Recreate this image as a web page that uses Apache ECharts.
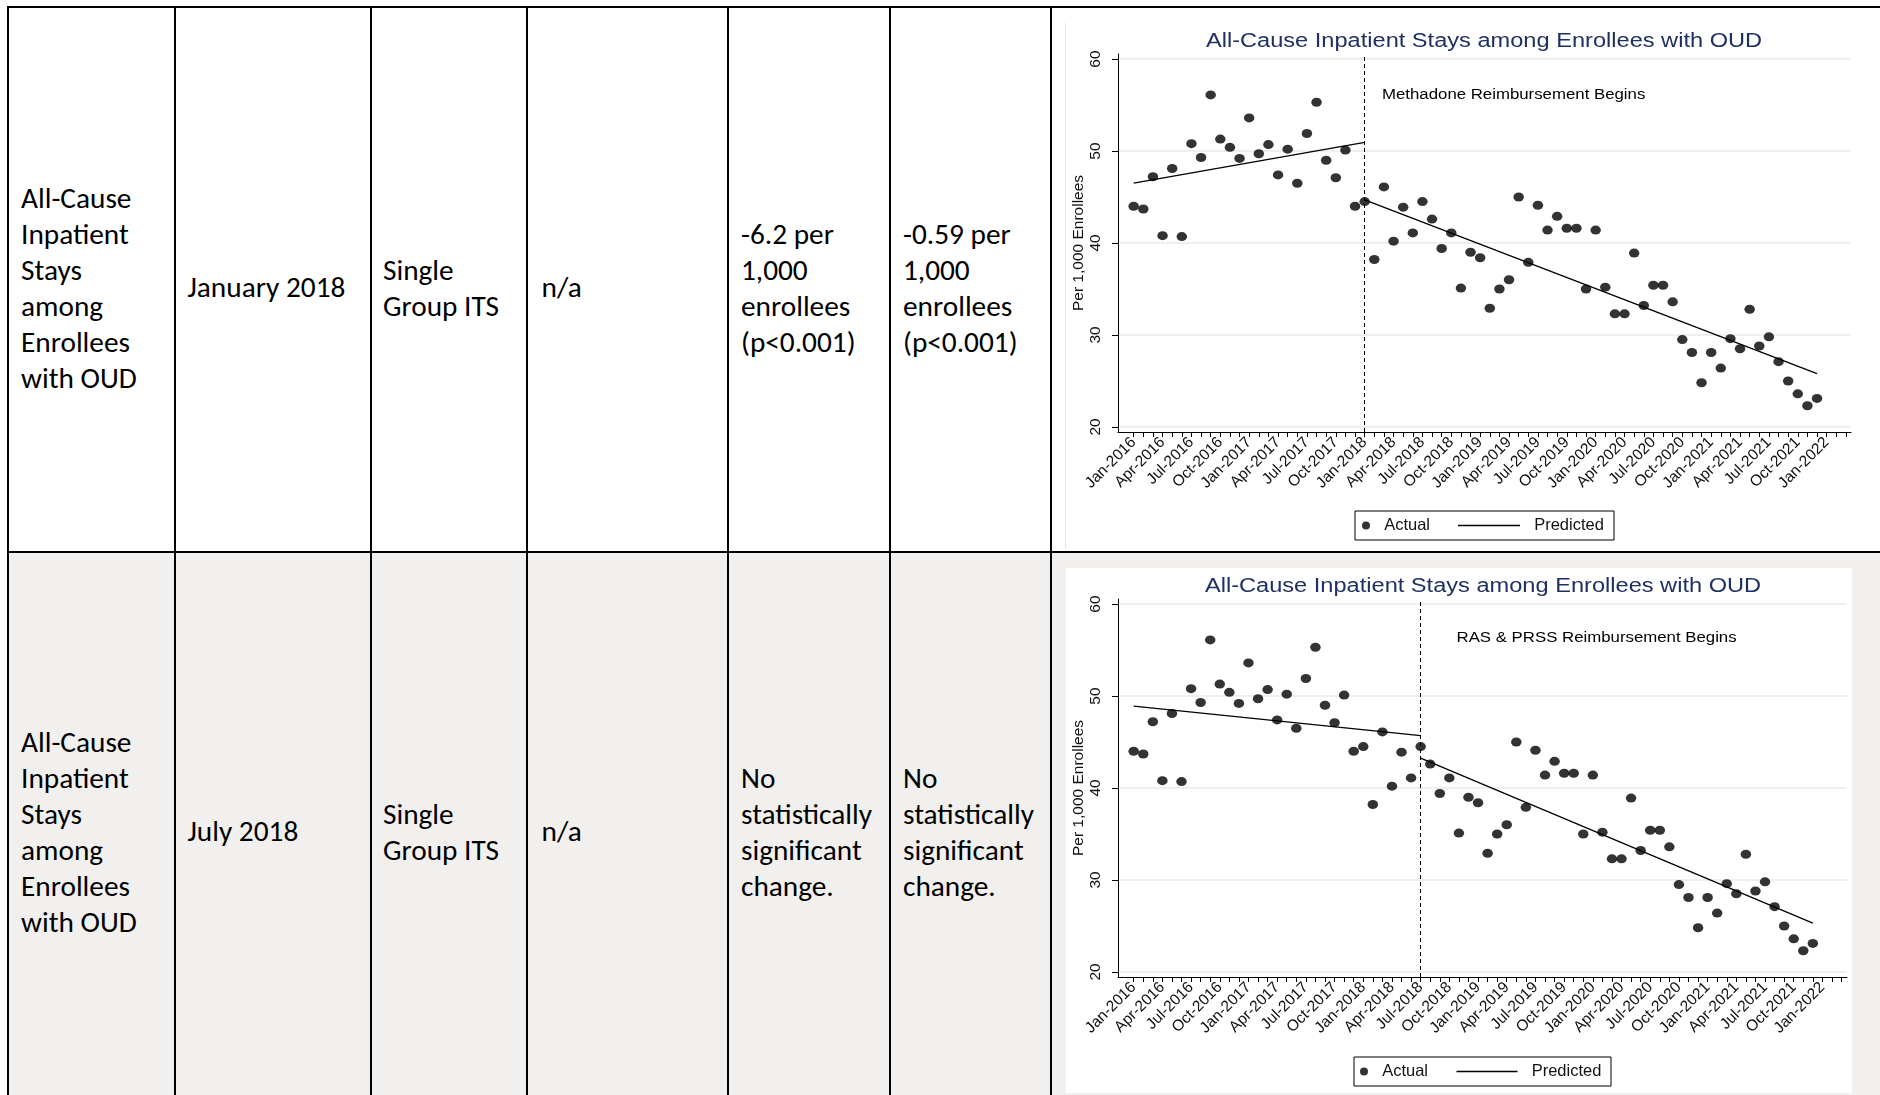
<!DOCTYPE html>
<html>
<head>
<meta charset="utf-8">
<script src="https://cdn.jsdelivr.net/npm/echarts@6/dist/echarts.min.js"></script>
<style>
html,body{margin:0;padding:0;background:#fff;}
#page{position:relative;width:1880px;height:1095px;overflow:hidden;background:#fff;}
.bg2{position:absolute;left:9px;top:553px;width:1871px;height:542px;background:#f1f0ee;}
.img1{position:absolute;left:1065px;top:23px;width:1px;height:525px;background:#e4e4e4;}
.img2{position:absolute;left:1066px;top:568px;width:786px;height:525px;background:#fff;}
.hl{position:absolute;height:2px;background:#000;}
.vl{position:absolute;width:2px;background:#000;}
.cell{position:absolute;font-family:Carlito,Calibri,Lato,sans-serif;font-size:29.3px;line-height:36px;color:#000;white-space:nowrap;}
#chart{position:absolute;left:0;top:0;width:1880px;height:1095px;}
</style>
</head>
<body>
<div id="page">
  <div class="bg2"></div>
  <div class="img1"></div>
  <div class="img2"></div>
  <div id="cells"></div>
  <div id="lines"></div>
  <div id="chart"></div>
</div>
<script>
// ---------------- data ----------------
const tickLabels = ['Jan-2016','Apr-2016','Jul-2016','Oct-2016','Jan-2017','Apr-2017','Jul-2017','Oct-2017',
  'Jan-2018','Apr-2018','Jul-2018','Oct-2018','Jan-2019','Apr-2019','Jul-2019','Oct-2019',
  'Jan-2020','Apr-2020','Jul-2020','Oct-2020','Jan-2021','Apr-2021','Jul-2021','Oct-2021','Jan-2022'];
const yTicks = [20, 30, 40, 50, 60];
// Actual monthly values Jan-2016 .. Dec-2021 (per 1,000 enrollees)
const actual = [44.0,43.7,47.2,40.8,48.1,40.7,50.8,49.3,56.1,51.3,50.4,49.2,
  53.6,49.7,50.7,47.4,50.2,46.5,51.9,55.3,49.0,47.1,50.1,44.0,
  44.5,38.2,46.1,40.2,43.9,41.1,44.5,42.6,39.4,41.1,35.1,39.0,
  38.4,32.9,35.0,36.0,45.0,37.9,44.1,41.4,42.9,41.6,41.6,35.0,
  41.4,35.2,32.3,32.3,38.9,33.2,35.4,35.4,33.6,29.5,28.1,24.8,
  28.1,26.4,29.6,28.5,32.8,28.8,29.8,27.1,25.0,23.6,22.3,23.1];
// Predicted segments [monthIndex, value]
const intervention1 = 24; // Jan-2018
const predPre1 = [[0, 46.5], [24, 50.95]];
const predPost1 = [[24, 44.7], [71, 25.8]];
const intervention2 = 30; // Jul-2018
const predPre2 = [[0, 48.9], [30, 45.7]];
const predPost2 = [[30, 43.25], [71, 25.3]];
const chartTitle = 'All-Cause Inpatient Stays among Enrollees with OUD';
const annotation1 = 'Methadone Reimbursement Begins';
const annotation2 = 'RAS & PRSS Reimbursement Begins';

// ---------------- table ----------------
const rowsText = [
  [['All-Cause','Inpatient','Stays','among','Enrollees','with OUD'], ['January 2018'], ['Single','Group ITS'], ['n/a'],
   ['-6.2 per','1,000','enrollees','(p<0.001)'], ['-0.59 per','1,000','enrollees','(p<0.001)']],
  [['All-Cause','Inpatient','Stays','among','Enrollees','with OUD'], ['July 2018'], ['Single','Group ITS'], ['n/a'],
   ['No','statistically','significant','change.'], ['No','statistically','significant','change.']]
];
const colX = [21, 187.5, 383, 541.5, 741, 903];
const firstLineCenter = [[199, 288, 271, 288, 235, 235], [743.5, 832, 815.5, 832, 779.5, 779.5]];
const cellsDiv = document.getElementById('cells');
rowsText.forEach((row, r) => row.forEach((lines, c) => {
  const d = document.createElement('div');
  d.className = 'cell';
  d.style.left = colX[c] + 'px';
  d.style.top = (firstLineCenter[r][c] - 19.5) + 'px';
  d.innerHTML = lines.map(s => s.replace('&','&amp;').replace('<','&lt;')).join('<br>');
  cellsDiv.appendChild(d);
}));
const linesDiv = document.getElementById('lines');
[6, 551].forEach(y => {
  const d = document.createElement('div'); d.className = 'hl';
  d.style.left = '7px'; d.style.top = y + 'px'; d.style.width = '1873px'; linesDiv.appendChild(d);
});
[7, 174, 370, 526, 727, 889, 1050].forEach(x => {
  const d = document.createElement('div'); d.className = 'vl';
  d.style.left = x + 'px'; d.style.top = '6px'; d.style.height = '1089px'; linesDiv.appendChild(d);
});

// ---------------- chart ----------------
const FONT = '"Liberation Sans", Arial, Helvetica, sans-serif';
const monthTicks = Array.from({length: 75}, (_, i) => i);
const labelMonths = tickLabels.map((_, i) => i * 3);
const actualPts = actual.map((v, i) => [i, v]);

const layouts = [
  {top: 54, width: 733, xmin: -1.63, xmax: 74.53},
  {top: 599, width: 729, xmin: -1.64, xmax: 74.57}
];

const grids = [], xAxes = [], yAxes = [], series = [];
layouts.forEach((L, k) => {
  grids.push({left: 1118, top: L.top, width: L.width, height: 378, containLabel: false});
  xAxes.push({
    type: 'value', gridIndex: k, min: L.xmin, max: L.xmax,
    axisLine: {show: true, onZero: false, lineStyle: {color: '#000', width: 1}},
    axisTick: {show: true, customValues: monthTicks, length: 5, lineStyle: {color: '#000', width: 1}},
    axisLabel: {show: true, customValues: labelMonths, rotate: 45, margin: 8,
      formatter: v => tickLabels[Math.round(v / 3)] || '',
      fontSize: 15.5, fontFamily: FONT, color: '#111'},
    splitLine: {show: false}
  });
  yAxes.push({
    type: 'value', gridIndex: k, min: 19.45, max: 60.55,
    axisLine: {show: true, onZero: false, lineStyle: {color: '#000', width: 1}},
    axisTick: {show: true, customValues: yTicks, length: 6, lineStyle: {color: '#000', width: 1}},
    axisLabel: {show: true, customValues: yTicks, rotate: 90, margin: 14, fontSize: 15.5, fontFamily: FONT, color: '#111'},
    splitLine: {show: true, lineStyle: {color: '#e4ecee', width: 1.5}},
    name: 'Per 1,000 Enrollees', nameLocation: 'middle', nameGap: 31,
    nameTextStyle: {fontSize: 15.5, fontFamily: FONT, color: '#111'}
  });
  const pre = k === 0 ? predPre1 : predPre2;
  const post = k === 0 ? predPost1 : predPost2;
  const interv = k === 0 ? intervention1 : intervention2;
  series.push({
    type: 'scatter', name: 'Actual', xAxisIndex: k, yAxisIndex: k,
    data: actualPts, symbol: 'circle', symbolSize: [10.5, 9],
    itemStyle: {color: '#000'}, z: 3
  });
  series.push({
    type: 'line', name: 'Predicted', xAxisIndex: k, yAxisIndex: k,
    data: pre, symbol: 'none', showSymbol: false, lineStyle: {color: '#000', width: 1.3}, itemStyle: {color: '#000'},
    markLine: {silent: true, symbol: ['none', 'none'], label: {show: false},
      lineStyle: {color: '#000', type: [4, 3], width: 1}, data: [{xAxis: interv}]}
  });
  series.push({
    type: 'line', name: 'Predicted', xAxisIndex: k, yAxisIndex: k,
    data: post, symbol: 'none', showSymbol: false, lineStyle: {color: '#000', width: 1.3}, itemStyle: {color: '#000'}
  });
});

const legendText = {fontSize: 16.5, fontFamily: FONT, color: '#111'};
const legends = [
  {left: 1355, top: 511, data: ['Actual'], icon: 'circle', itemWidth: 8, itemHeight: 8, padding: [6, 184, 6, 7],
   formatter: '  {name}', borderColor: '#000', borderWidth: 1, selectedMode: false, textStyle: legendText},
  {left: 1458, top: 511, data: ['Predicted'], icon: 'rect', itemWidth: 62, itemHeight: 1.3, padding: [6, 0, 6, 0],
   formatter: '  {name}', selectedMode: false, textStyle: legendText},
  {left: 1354, top: 1057, data: ['Actual'], icon: 'circle', itemWidth: 8, itemHeight: 8, padding: [6, 183, 6, 6],
   formatter: '  {name}', borderColor: '#000', borderWidth: 1, selectedMode: false, textStyle: legendText},
  {left: 1456.5, top: 1057, data: ['Predicted'], icon: 'rect', itemWidth: 61, itemHeight: 1.3, padding: [6, 0, 6, 0],
   formatter: '  {name}', selectedMode: false, textStyle: legendText}
];

const titleStyle = {font: '20px ' + FONT, fill: '#1f3063', textAlign: 'center', textVerticalAlign: 'middle'};
const noteStyle = {font: '14px ' + FONT, fill: '#000', textAlign: 'left', textVerticalAlign: 'middle'};
const graphics = [
  {type: 'text', x: 1484, y: 41.5, scaleX: 1.18, style: Object.assign({text: chartTitle}, titleStyle)},
  {type: 'text', x: 1483, y: 586.5, scaleX: 1.18, style: Object.assign({text: chartTitle}, titleStyle)},
  {type: 'text', x: 1382, y: 95.5, scaleX: 1.2, style: Object.assign({text: annotation1}, noteStyle)},
  {type: 'text', x: 1456.5, y: 638.5, scaleX: 1.2, style: Object.assign({text: annotation2}, noteStyle)}
];

const chart = echarts.init(document.getElementById('chart'), null, {renderer: 'canvas'});
chart.setOption({
  animation: false,
  backgroundColor: 'transparent',
  grid: grids, xAxis: xAxes, yAxis: yAxes, series: series,
  legend: legends, graphic: graphics,
  tooltip: {show: false}
});
</script>
</body>
</html>
